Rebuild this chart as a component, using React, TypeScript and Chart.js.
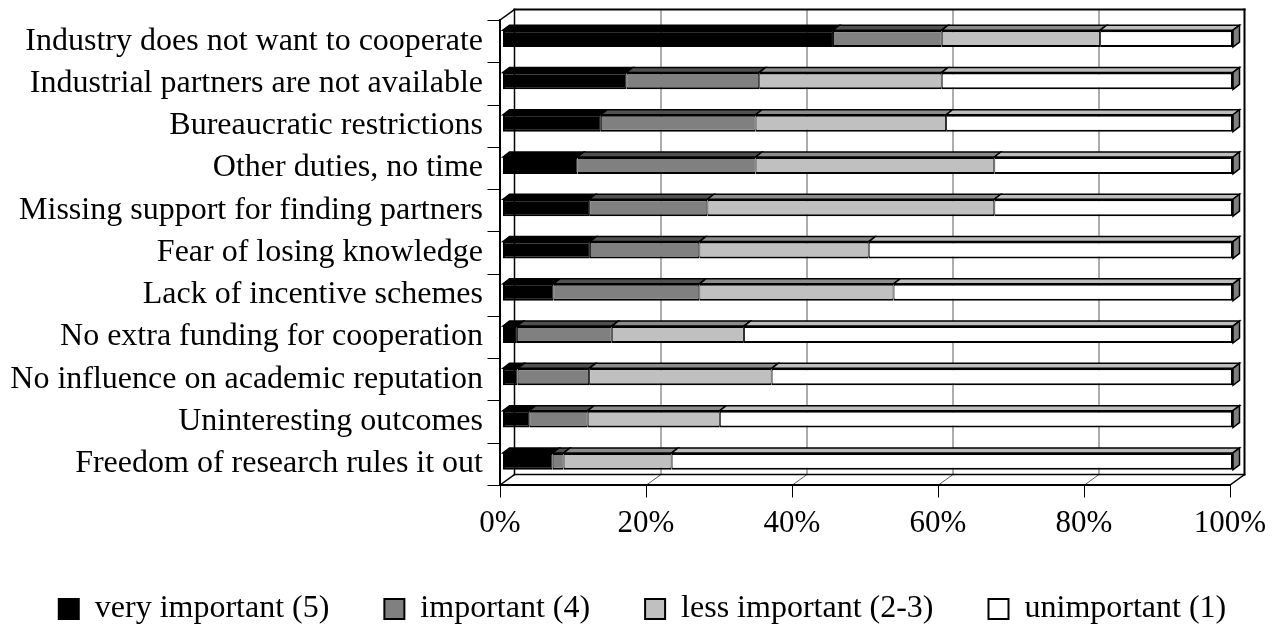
import React, { useEffect, useRef } from 'react';
import { Chart, registerables } from 'chart.js';

Chart.register(...registerables);

const categories = [
  'Industry does not want to cooperate',
  'Industrial partners are not available',
  'Bureaucratic restrictions',
  'Other duties, no time',
  'Missing support for finding partners',
  'Fear of losing knowledge',
  'Lack of incentive schemes',
  'No extra funding for cooperation',
  'No influence on academic reputation',
  'Uninteresting outcomes',
  'Freedom of research rules it out',
];

const veryImportant = [45.2, 16.9, 13.4, 10.2, 11.8, 11.9, 6.9, 1.9, 2.0, 3.6, 6.8];
const important = [14.9, 18.2, 21.2, 24.4, 16.2, 15.0, 20.0, 13.0, 9.8, 8.0, 1.5];
const lessImportant = [21.7, 25.0, 26.1, 32.7, 39.3, 23.2, 26.6, 18.1, 25.0, 18.1, 14.8];
const unimportant = [18.2, 39.9, 39.3, 32.7, 32.7, 49.9, 46.5, 67.0, 63.2, 70.3, 76.9];

const seriesNames = ['very important (5)', 'important (4)', 'less important (2-3)', 'unimportant (1)'];
const seriesColors = ['#000000', '#808080', '#c0c0c0', '#ffffff'];
const topColors = ['#000000', '#505050', '#8c8c8c', '#bdbdbd'];
const xTicks = [0, 20, 40, 60, 80, 100];

const FONT = "'Liberation Serif', 'Times New Roman', serif";

// depth geometry
const DX = 14.5;
const DY = 10.5;
const BX = 3;
const BY = 2.5;
const BDX = 6.5;
const BDY = 5;

function line(ctx: CanvasRenderingContext2D, x1: number, y1: number, x2: number, y2: number) {
  ctx.beginPath();
  ctx.moveTo(x1, y1);
  ctx.lineTo(x2, y2);
  ctx.stroke();
}

const wallPlugin = {
  id: 'walls3d',
  beforeDatasetsDraw(chart: any) {
    const { ctx, chartArea: a, scales } = chart;
    const x = scales.x;
    const y = scales.y;
    ctx.save();
    ctx.lineCap = 'square';
    ctx.strokeStyle = '#5a5a5a';
    ctx.lineWidth = 1;
    for (const v of [20, 40, 60, 80]) {
      const px = Math.round(x.getPixelForValue(v)) + 0.5;
      line(ctx, px + DX, a.top - DY, px + DX, a.bottom - DY);
      line(ctx, px, a.bottom, px + DX, a.bottom - DY);
    }
    ctx.strokeStyle = '#000';
    ctx.lineWidth = 1.5;
    line(ctx, a.left + DX, a.bottom - DY, a.right + DX, a.bottom - DY);
    line(ctx, a.left + DX, a.top - DY, a.left + DX, a.bottom - DY);
    line(ctx, a.left, a.top, a.left + DX, a.top - DY);
    line(ctx, a.left, a.bottom, a.left + DX, a.bottom - DY);
    line(ctx, a.right, a.bottom, a.right + DX, a.bottom - DY);
    ctx.lineWidth = 2;
    line(ctx, a.left + DX, a.top - DY, a.right + DX, a.top - DY);
    line(ctx, a.right + DX, a.top - DY, a.right + DX, a.bottom - DY);
    line(ctx, a.left, a.top, a.left, a.bottom);
    line(ctx, a.left, a.bottom, a.right, a.bottom);
    ctx.lineWidth = 1;
    for (const v of xTicks) {
      const px = Math.round(x.getPixelForValue(v)) + 0.5;
      line(ctx, px, a.bottom, px, a.bottom + 12);
    }
    const step = y.getPixelForValue(1) - y.getPixelForValue(0);
    for (let i = 0; i <= categories.length; i++) {
      const py = Math.round(y.getPixelForValue(i) - step / 2) + 0.5;
      line(ctx, a.left - 12, py, a.left, py);
    }
    ctx.restore();
    ctx.save();
    ctx.translate(BX, -BY);
  },
  afterDatasetsDraw(chart: any) {
    const { ctx } = chart;
    const n = chart.data.datasets.length;
    ctx.lineJoin = 'miter';
    for (let d = 0; d < n; d++) {
      const meta = chart.getDatasetMeta(d);
      for (const el of meta.data) {
        const p = el.getProps(['x', 'y', 'base', 'height'], true);
        const left = Math.min(p.x, p.base);
        const right = Math.max(p.x, p.base);
        const top = p.y - p.height / 2;
        const bottom = p.y + p.height / 2;
        if (right - left < 0.01) continue;
        ctx.beginPath();
        ctx.moveTo(left, top);
        ctx.lineTo(left + BDX, top - BDY);
        ctx.lineTo(right + BDX, top - BDY);
        ctx.lineTo(right, top);
        ctx.closePath();
        ctx.fillStyle = topColors[d];
        ctx.fill();
        ctx.strokeStyle = '#000';
        ctx.lineWidth = 1.5;
        ctx.stroke();
        if (d === n - 1) {
          ctx.beginPath();
          ctx.moveTo(right, top);
          ctx.lineTo(right + BDX, top - BDY);
          ctx.lineTo(right + BDX, bottom - BDY);
          ctx.lineTo(right, bottom);
          ctx.closePath();
          ctx.fillStyle = '#808080';
          ctx.fill();
          ctx.stroke();
        }
      }
    }
    ctx.restore();
  },
};

export default function App() {
  const ref = useRef<HTMLCanvasElement>(null);
  useEffect(() => {
    if (!ref.current) return;
    Chart.defaults.font.family = FONT;
    const series = [veryImportant, important, lessImportant, unimportant];
    const chart = new Chart(ref.current, {
      type: 'bar',
      data: {
        labels: categories,
        datasets: series.map((data, i) => ({
          label: seriesNames[i],
          data,
          backgroundColor: seriesColors[i],
          borderColor: '#000',
          borderWidth: {
            top: 2,
            bottom: 2,
            left: i === 0 ? 2 : 1,
            right: i === series.length - 1 ? 2 : 1,
          },
          borderSkipped: false,
          barPercentage: 0.4,
          categoryPercentage: 1,
          clip: false as any,
        })),
      },
      options: {
        indexAxis: 'y',
        responsive: false,
        animation: false,
        devicePixelRatio: 1,
        layout: { padding: { top: 20, right: 0, bottom: 2, left: 0 } },
        scales: {
          x: {
            type: 'linear',
            stacked: true,
            min: 0,
            max: 100,
            grid: { display: false, drawTicks: false },
            border: { display: false },
            afterFit: (s: any) => {
              s.height = 53;
              s.paddingLeft = 0;
              s.paddingRight = 0;
            },
            afterBuildTicks: (s: any) => {
              s.ticks = xTicks.map((v) => ({ value: v }));
            },
            ticks: {
              padding: 20,
              color: '#000',
              font: { size: 31, family: FONT },
              callback: (v: any) => v + '%',
            },
          },
          y: {
            stacked: true,
            grid: { display: false, drawTicks: false },
            border: { display: false },
            afterFit: (s: any) => {
              s.width = 500;
              s.paddingTop = 0;
              s.paddingBottom = 0;
            },
            ticks: {
              padding: 17,
              color: '#000',
              font: { size: 32, family: FONT },
              autoSkip: false,
            },
          },
          spacer: {
            type: 'linear',
            position: 'right',
            display: true,
            grid: { display: false, drawTicks: false },
            border: { display: false },
            ticks: { display: false },
            afterFit: (s: any) => {
              s.width = 55;
              s.paddingTop = 0;
              s.paddingBottom = 0;
            },
          },
        },
        plugins: {
          tooltip: { enabled: false },
          legend: {
            display: true,
            position: 'bottom',
            labels: {
              boxWidth: 20,
              boxHeight: 20,
              padding: 55,
              color: '#000',
              font: { size: 32, family: FONT },
              generateLabels: (c: any) =>
                c.data.datasets.map((ds: any, i: number) => ({
                  text: ds.label,
                  fillStyle: seriesColors[i],
                  strokeStyle: '#000',
                  lineWidth: 2,
                  hidden: false,
                  datasetIndex: i,
                  fontColor: '#000',
                })),
            },
          },
        },
      },
      plugins: [wallPlugin],
    } as any);
    return () => chart.destroy();
  }, []);
  return (
    <div style={{ position: 'fixed', left: 0, top: 0, width: 1285, height: 637, background: '#fff' }}>
      <canvas ref={ref} width={1285} height={637} style={{ width: 1285, height: 637, display: 'block' }} />
    </div>
  );
}
